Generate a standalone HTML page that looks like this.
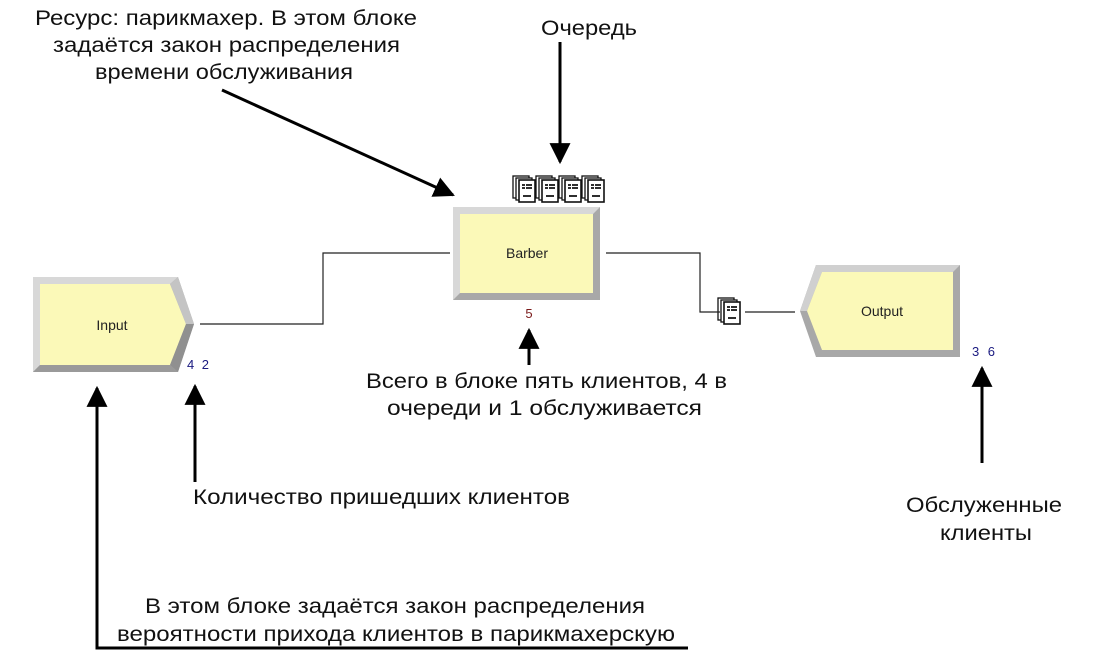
<!DOCTYPE html>
<html><head><meta charset="utf-8"><style>
html,body{margin:0;padding:0;background:#fff;width:1096px;height:654px;overflow:hidden}
svg{display:block}
.t{font-family:"Liberation Sans",sans-serif;font-size:21px;fill:#111}
.s{font-family:"Liberation Sans",sans-serif;font-size:14px;fill:#222}
.n{font-family:"Liberation Sans",sans-serif;font-size:13px;fill:#1a1a80}
</style></head><body>
<svg width="1096" height="654" viewBox="0 0 1096 654">
<defs>
<marker id="b" viewBox="0 0 10 10" refX="9" refY="5" markerWidth="7" markerHeight="7" orient="auto"><path d="M0,0L10,5L0,10z" fill="#000"/></marker>
<g id="doc">
<rect x="0" y="0" width="16" height="22" fill="#fff" stroke="#111" stroke-width="1.3"/>
<rect x="3" y="2" width="16" height="22" fill="#fff" stroke="#111" stroke-width="1.3"/>
<rect x="6" y="4" width="16" height="22" fill="#fff" stroke="#111" stroke-width="1.6"/>
<path d="M9,9h3M13,9h6M9,12h3M13,12h6M10,20h8" stroke="#111" stroke-width="1.8"/>
</g>
</defs>

<polygon points="33,277 178,277 194,324 178,372 33,372" fill="#b0b0b0"/>
<polygon points="33,277 178,277 170,284 40,284 40,365 33,372" fill="#d8d8d8"/>
<polygon points="40,284 170,284 186,324 170,365 40,365" fill="#fbf9b8"/>
<polygon points="170,284 178,277 194,324 186,324" fill="#c4c4c4"/>
<polygon points="186,324 194,324 178,372 170,365" fill="#909090"/>
<polygon points="40,365 170,365 178,372 33,372" fill="#9a9a9a"/>
<text x="112" y="330" class="s" text-anchor="middle">Input</text>
<text x="187" y="369" class="n" textLength="22">4 2</text>

<rect x="453" y="207" width="147" height="93" fill="#a8a8a8"/>
<polygon points="453,207 600,207 593,214 460,214 460,293 453,300" fill="#d8d8d8"/>
<rect x="460" y="214" width="133" height="79" fill="#fbf9b8"/>
<text x="527" y="258" class="s" text-anchor="middle">Barber</text>
<text x="529" y="318" class="n" style="fill:#7a1a1a" text-anchor="middle">5</text>

<polygon points="816,265 960,265 960,357 816,357 800,311" fill="#a8a8a8"/>
<polygon points="816,265 960,265 953,272 822,272 807,311 800,311" fill="#d0d0d0"/>
<polygon points="822,272 953,272 953,350 822,350 807,311" fill="#fbf9b8"/>
<text x="882" y="316" class="s" text-anchor="middle">Output</text>
<text x="972" y="356" class="n" textLength="23">3 6</text>

<use href="#doc" x="513" y="176"/>
<use href="#doc" x="536" y="176"/>
<use href="#doc" x="559" y="176"/>
<use href="#doc" x="582" y="176"/>
<use href="#doc" x="718" y="298"/>

<polyline points="200,324 323,324 323,253 450,253" fill="none" stroke="#222" stroke-width="1.2"/>
<polyline points="606,253 700,253 700,312 720,312" fill="none" stroke="#222" stroke-width="1.2"/>
<line x1="745" y1="312" x2="795" y2="312" stroke="#222" stroke-width="1.2"/>

<g stroke="#000" stroke-width="3" fill="none">
<line x1="222" y1="90" x2="453" y2="195" marker-end="url(#b)"/>
<line x1="560" y1="42" x2="560" y2="162" marker-end="url(#b)"/>
<line x1="529" y1="365" x2="529" y2="330" marker-end="url(#b)"/>
<line x1="195" y1="482" x2="195" y2="386" marker-end="url(#b)"/>
<line x1="982" y1="463" x2="982" y2="368" marker-end="url(#b)"/>
<polyline points="688,648 97,648 97,388" marker-end="url(#b)"/>
</g>

<text x="35" y="25" class="t" textLength="382" lengthAdjust="spacingAndGlyphs">Ресурс: парикмахер. В этом блоке</text>
<text x="53" y="52" class="t" textLength="347" lengthAdjust="spacingAndGlyphs">задаётся закон распределения</text>
<text x="95" y="79" class="t" textLength="258" lengthAdjust="spacingAndGlyphs">времени обслуживания</text>
<text x="541" y="35" class="t" textLength="96" lengthAdjust="spacingAndGlyphs">Очередь</text>
<text x="366" y="388" class="t" textLength="361" lengthAdjust="spacingAndGlyphs">Всего в блоке пять клиентов, 4 в</text>
<text x="387" y="415" class="t" textLength="315" lengthAdjust="spacingAndGlyphs">очереди и 1 обслуживается</text>
<text x="193" y="504" class="t" textLength="377" lengthAdjust="spacingAndGlyphs">Количество пришедших клиентов</text>
<text x="906" y="512" class="t" textLength="156" lengthAdjust="spacingAndGlyphs">Обслуженные</text>
<text x="940" y="540" class="t" textLength="92" lengthAdjust="spacingAndGlyphs">клиенты</text>
<text x="145" y="613" class="t" textLength="500" lengthAdjust="spacingAndGlyphs">В этом блоке задаётся закон распределения</text>
<text x="117" y="641" class="t" textLength="558" lengthAdjust="spacingAndGlyphs">вероятности прихода клиентов в парикмахерскую</text>
</svg>
</body></html>
